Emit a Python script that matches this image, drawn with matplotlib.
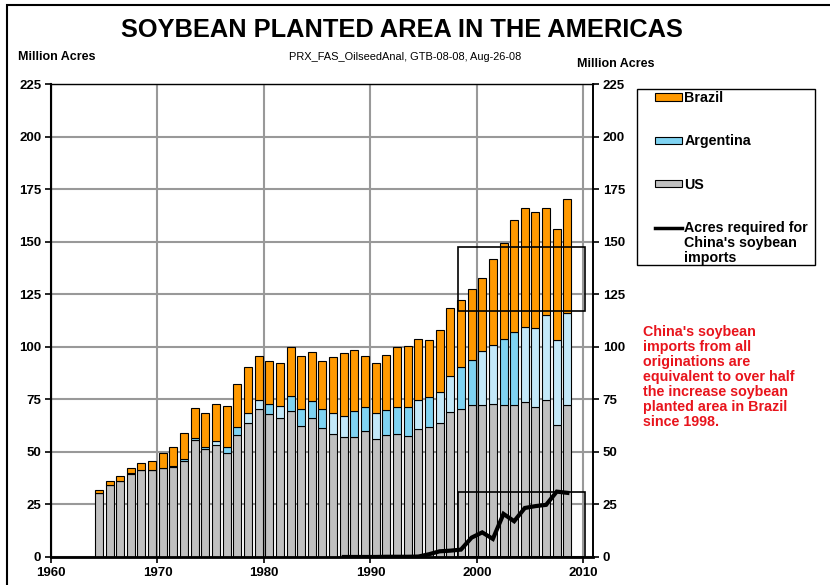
import matplotlib
matplotlib.use('Agg')
import matplotlib.pyplot as plt
from matplotlib.patches import Patch, Rectangle
from matplotlib.lines import Line2D
from matplotlib.legend_handler import HandlerLine2D
import numpy as np

plt.rcParams['font.family'] = ['Liberation Sans', 'DejaVu Sans']

years = list(range(1964, 2009))
us = [30.5, 34.3, 36.2, 39.7, 41.4, 41.3, 42.2, 42.9, 45.7, 55.6,
      51.3, 53.5, 49.3, 57.8, 63.7, 70.3, 67.9, 66.2, 69.5, 62.5,
      66.2, 61.4, 58.6, 57.1, 57.3, 59.7, 56.3, 57.8, 58.3, 57.5,
      61.0, 61.7, 63.7, 69.2, 70.5, 72.2, 72.4, 72.9, 72.4, 72.4,
      73.8, 71.3, 74.9, 62.7, 72.2]
argentina = [0.1, 0.1, 0.1, 0.1, 0.1, 0.1, 0.2, 0.3, 0.9, 1.2,
             1.2, 1.7, 3.2, 3.9, 4.9, 4.3, 4.8, 5.7, 7.2, 8.1,
             8.2, 8.8, 10.1, 10.0, 12.2, 11.6, 12.1, 12.2, 13.2, 13.9,
             13.8, 14.5, 14.9, 17.0, 20.0, 21.5, 25.7, 28.1, 31.1, 34.6,
             35.7, 37.6, 40.0, 40.5, 43.8]
brazil = [1.4, 1.7, 2.3, 2.4, 3.3, 4.2, 7.1, 8.9, 12.4, 14.2,
          15.8, 17.5, 19.4, 20.7, 21.9, 21.1, 20.3, 20.2, 23.3, 25.1,
          23.2, 23.1, 26.4, 29.9, 28.8, 24.1, 24.0, 26.3, 28.5, 28.9,
          29.0, 27.1, 29.2, 32.4, 31.9, 33.6, 34.6, 40.7, 45.9, 53.3,
          56.5, 55.2, 51.3, 52.8, 54.5]

china_years = list(range(1987, 2009))
china_acres = [0, 0, 0, 0, 0.1, 0.1, 0.1, 0.2, 1.3, 2.7,
               3.0, 3.5, 9.2, 11.7, 8.6, 20.5, 17.0, 23.3, 24.2, 24.8,
               31.1, 30.5]

# Argentina bars drawn in a lighter blue in these years
arg_light_years = [1975, 1978, 1979, 1981, 1986, 1987, 1990, 1994, 1996, 1997,
                   2000, 2001, 2004, 2005, 2006, 2007, 2008]

note = ("China's soybean\nimports from all\noriginations are\n"
        "equivalent to over half\nthe increase soybean\n"
        "planted area in Brazil\nsince 1998.")


class TopLineHandler(HandlerLine2D):
    # put the line next to the first row of a multi-line label
    def create_artists(self, legend, orig_handle, xdescent, ydescent, width, height,
                       fontsize, trans):
        arts = super().create_artists(legend, orig_handle, xdescent, ydescent, width,
                                      height, fontsize, trans)
        for a in arts:
            a.set_ydata(np.asarray(a.get_ydata()) + 1.1 * fontsize)
        return arts


x = np.array(years) + 0.5
us = np.array(us)
argentina = np.array(argentina)
brazil = np.array(brazil)
arg_colors = ['#c3e8f8' if y in arg_light_years else '#7fd3f2' for y in years]

fig = plt.figure(figsize=(8.3, 5.85), dpi=100)
ax = fig.add_axes([0.0614, 0.0479, 0.653, 0.8085])

ax.bar(x, us, width=0.75, color='#c0c0c0', edgecolor='black', linewidth=0.8, zorder=2)
ax.bar(x, argentina, width=0.75, bottom=us, color=arg_colors, edgecolor='black',
       linewidth=0.8, zorder=2)
ax.bar(x, brazil, width=0.75, bottom=us + argentina, color='#ff9900', edgecolor='black',
       linewidth=0.8, zorder=2)
ax.plot(np.array(china_years) + 0.5, china_acres, color='black', linewidth=3,
        solid_joinstyle='miter', zorder=4)

# highlight boxes
ax.add_patch(Rectangle((1998.2, 117), 12.0, 30.6, fill=False, edgecolor='black',
                       linewidth=1.2, zorder=5))
ax.add_patch(Rectangle((1998.2, 0), 12.0, 30.7, fill=False, edgecolor='black',
                       linewidth=1.2, zorder=5))

ax.set_xlim(1960, 2010.9)
ax.set_ylim(0, 225)
ax.set_xticks(range(1960, 2011, 10))
ax.set_yticks(range(0, 226, 25))
ax.grid(True, color='#999999', linewidth=1.5)
ax.set_axisbelow(True)
ax.tick_params(axis='both', direction='out', length=4, width=1.2, labelsize=9.5, pad=3)
for lab in ax.get_xticklabels() + ax.get_yticklabels():
    lab.set_fontweight('bold')
ax.spines['left'].set_linewidth(1.5)
ax.spines['bottom'].set_linewidth(2)
ax.spines['top'].set_color('#333333')
ax.spines['top'].set_linewidth(1)
ax.spines['right'].set_linewidth(1.2)

ax2 = ax.twinx()
ax2.set_ylim(0, 225)
ax2.set_yticks(range(0, 226, 25))
ax2.tick_params(axis='y', direction='out', length=4, width=1.2, labelsize=9.5, pad=3)
for lab in ax2.get_yticklabels():
    lab.set_fontweight('bold')
ax2.spines['right'].set_linewidth(1.2)

fig.text(0.484, 0.948, 'SOYBEAN PLANTED AREA IN THE AMERICAS', ha='center', va='center',
         fontsize=18.3, fontweight='bold')
fig.text(0.488, 0.902, 'PRX_FAS_OilseedAnal, GTB-08-08, Aug-26-08', ha='center',
         va='center', fontsize=7.9)
fig.text(0.022, 0.902, 'Million Acres', ha='left', va='center', fontsize=9, fontweight='bold')
fig.text(0.695, 0.891, 'Million Acres', ha='left', va='center', fontsize=9, fontweight='bold')
fig.text(0.775, 0.444, note, ha='left', va='top', fontsize=10.3, fontweight='bold',
         color='#e8141c', linespacing=1.08)

handles = [Patch(facecolor='#ff9900', edgecolor='black', linewidth=0.8),
           Patch(facecolor='#7fd3f2', edgecolor='black', linewidth=0.8),
           Patch(facecolor='#c0c0c0', edgecolor='black', linewidth=0.8),
           Line2D([], [], color='black', linewidth=2.5)]
labels = ['Brazil', 'Argentina', 'US', "Acres required for\nChina's soybean\nimports"]
leg = fig.legend(handles, labels, loc='upper left',
                 bbox_to_anchor=(655 / 830, 1 - 91 / 585),
                 frameon=False, prop={'size': 10.3, 'weight': 'bold'},
                 handlelength=1.9, handleheight=0.42, handletextpad=0.15,
                 labelspacing=2.05, borderpad=0, borderaxespad=0,
                 handler_map={Line2D: TopLineHandler()})
for t in leg.get_texts():
    t.set_linespacing(1.1)

# legend box
fig.patches.append(Rectangle((637 / 830, 1 - 265 / 585), 178 / 830, 176 / 585,
                             transform=fig.transFigure, fill=False, edgecolor='black',
                             linewidth=1.0))
# outer frame of the chart area
fig.patches.append(Rectangle((0.0084, -0.05), 1.1, 1.0415, transform=fig.transFigure,
                             fill=False, edgecolor='black', linewidth=1.5))

fig.savefig('out.png', dpi=100)
